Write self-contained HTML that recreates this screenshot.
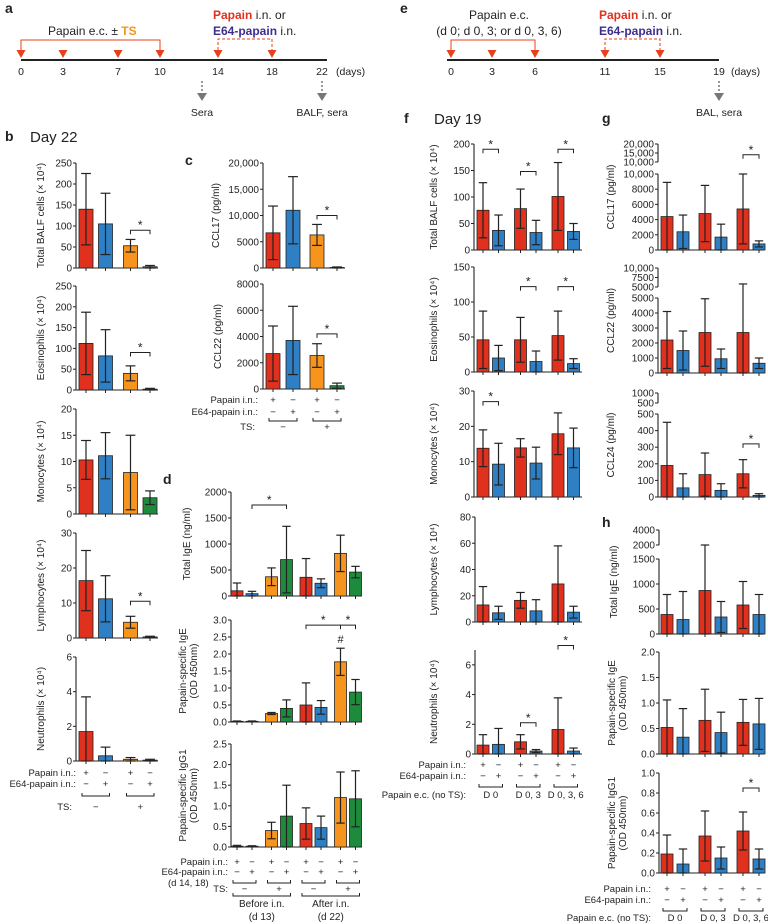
<!DOCTYPE html>
<html><head><meta charset="utf-8">
<style>
html,body{margin:0;padding:0;background:#fff;}
svg{display:block;font-family:"Liberation Sans",Arial,sans-serif;}
</style></head>
<body>
<svg id="fig" xmlns="http://www.w3.org/2000/svg" width="768" height="924" viewBox="0 0 768 924"></svg>
<script>
// ---------- data ----------
const bTotal=[140,105,53,3], bTotalErr=[225,178,68,6];
const bEos=[112,82,40,2], bEosErr=[187,145,58,4];
const bMono=[10.3,11.1,7.9,3.1], bMonoErr=[14,15.5,15,4.4];
const bLymph=[16.4,11.2,4.5,0.3], bLymphErr=[25,17.8,6.2,0.5];
const bNeut=[1.7,0.3,0.1,0.05], bNeutErr=[3.7,0.8,0.2,0.1];
const cCCL17=[6700,11000,6300,100], cCCL17Err=[11800,17400,8300,200];
const cCCL22=[2700,3700,2550,250], cCCL22Err=[4800,6300,3450,450];
const dIgE=[100,45,370,700,360,245,820,460], dIgEErr=[250,90,540,1340,720,330,1170,570];
const dPIgE=[0.02,0.02,0.25,0.4,0.5,0.43,1.77,0.88], dPIgEErr=[0.03,0.03,0.28,0.65,1.15,0.63,2.17,1.25];
const dIgG1=[0.02,0.02,0.4,0.75,0.57,0.47,1.2,1.17], dIgG1Err=[0.04,0.03,0.6,1.5,0.95,0.75,1.82,1.85];
const fTotal=[75,37,78,33,101,35], fTotalErr=[127,66,115,56,165,50];
const fEos=[46,20,46,15,52,12], fEosErr=[87,38,78,30,87,19];
const fMono=[13.8,9.3,13.9,9.6,17.9,13.9], fMonoErr=[19,15.2,16.5,14.1,23.8,19.5];
const fLymph=[13,7,16.5,8.5,29,7.5], fLymphErr=[27,12,22.5,17,58,12];
const fNeut=[0.6,0.65,0.82,0.2,1.65,0.2], fNeutErr=[1.3,1.72,1.3,0.3,3.78,0.4];
const gCCL17=[4400,2400,4800,1700,5400,800], gCCL17Err=[8900,4600,8500,3400,10000,1200];
const gCCL22=[2200,1500,2700,950,2700,650], gCCL22Err=[4100,2800,4950,1600,5800,1000];
const gCCL24=[190,55,135,40,140,10], gCCL24Err=[450,140,265,80,225,20];
const hIgE=[390,290,870,340,580,390], hIgEErr=[790,850,2000,650,1050,790];
const hPIgE=[0.52,0.33,0.66,0.42,0.62,0.59], hPIgEErr=[1.06,0.89,1.27,0.82,1.07,1.09];
const hIgG1=[0.19,0.09,0.37,0.15,0.42,0.14], hIgG1Err=[0.38,0.24,0.62,0.26,0.61,0.24];

const RED='#e0301e',BLUE='#2f7fc4',ORANGE='#f7941d',GREEN='#1e8a3c';
const colsTS=[RED,BLUE,ORANGE,GREEN];
const colsD=[RED,BLUE,ORANGE,GREEN,RED,BLUE,ORANGE,GREEN];
const colsF=[RED,BLUE,RED,BLUE,RED,BLUE];

// ---------- helpers ----------
const NS='http://www.w3.org/2000/svg';
const svg=document.getElementById('fig');
function mk(tag,attrs,parent){const e=document.createElementNS(NS,tag);for(const k in attrs)e.setAttribute(k,attrs[k]);(parent||svg).appendChild(e);return e;}
function txt(s,x,y,size,anchor,parent,extra){const t=mk('text',Object.assign({x:x,y:y,'font-size':size,'text-anchor':anchor||'start',fill:'#222'},extra||{}),parent);t.textContent=s;return t;}
function tsp(t,s,extra){const e=mk('tspan',extra||{},t);e.textContent=s;return e;}
function line(x1,y1,x2,y2,parent,w,col,dash){const a={x1:x1,y1:y1,x2:x2,y2:y2,stroke:col||'#222','stroke-width':w||1};if(dash)a['stroke-dasharray']=dash;return mk('line',a,parent);}

function xPos(x0,step,gap){return i=>x0+i*step+Math.floor(i/2)*gap;}

function panel(p,vals,errs,colors){
  const g=mk('g',{});
  
  
  const segs=p.segs;
  const y=v=>{for(let k=0;k<segs.length;k++){const s=segs[k];if(v<=s[1]||k===segs.length-1){const vv=Math.max(v,s[0]);return s[2]+(vv-s[0])/(s[1]-s[0])*(s[3]-s[2]);}}};
  const xc=p.xc;
  segs.forEach(s=>{const a=line(p.ax,s[2],p.ax,s[3],g,1.1);
    
    });
  const xa=line(p.ax,y(0),p.xEnd,y(0),g,1.1);
  
  
  p.ticks.forEach(t=>{const s=segs[t[2]||0];const ty=s[2]+(t[0]-s[0])/(s[1]-s[0])*(s[3]-s[2]);
    line(p.ax-3,ty,p.ax,ty,g,1);
    const tl=txt(t[1],p.ax-4,ty+3.5,10,'end',g);
    
    });
  const tc=(y(0)+segs[segs.length-1][3])/2;
  p.title.forEach((s,k)=>{const tt=txt(s,0,0,10,'middle',g,{transform:`translate(${p.tx+k*11},${tc}) rotate(-90)`});
    
    });
  vals.forEach((v,i)=>{
    const x=xc(i);
    line(x,y(0),x,y(0)+3,g,1);
    const r=mk('rect',{x:x-p.bw/2,y:y(v),width:p.bw,height:Math.max(0,y(0)-y(v)),fill:colors[i],stroke:'#222','stroke-width':0.8},g);
    
    
    const e=errs[i],lo=Math.max(0,2*v-e);
    const eb=line(x,y(lo),x,y(e),g,1.2);
    
    
    line(x-p.bw*0.35,y(e),x+p.bw*0.35,y(e),g,1.2);
    line(x-p.bw*0.35,y(lo),x+p.bw*0.35,y(lo),g,1.2);
  });
  (p.br||[]).forEach(b=>{const by=y(b[2]),x1=xc(b[0]),x2=xc(b[1]);
    const bl=mk('polyline',{points:`${x1},${by+4} ${x1},${by} ${x2},${by} ${x2},${by+4}`,fill:'none',stroke:'#222','stroke-width':1},g);
    
    
    txt('*',(x1+x2)/2,by-1,12,'middle',g);});
  (p.hash||[]).forEach(h=>{txt('#',xc(h[0]),y(h[1]),11,'middle',g);});
  return g;
}

function rows(xc,n,rowsY,labRight,labels){
  const g=mk('g',{});
  
  
  txt(labels[0],labRight,rowsY[0],9.5,'end',g);
  txt(labels[1],labRight,rowsY[1],9.5,'end',g);
  for(let i=0;i<n;i++){
    txt(i%2===0?'+':'−',xc(i),rowsY[0],9.5,'middle',g);
    txt(i%2===0?'−':'+',xc(i),rowsY[1],9.5,'middle',g);
  }
  return g;
}
function brk(x1,x2,y,g){mk('polyline',{points:`${x1},${y-3} ${x1},${y} ${x2},${y} ${x2},${y-3}`,fill:'none',stroke:'#222','stroke-width':1},g||svg);}

// ---------- panel a timeline ----------
(function(){
  const g=mk('g',{});
  
  
  txt('a',5,13,14,'start',g,{'font-weight':'bold'});
  line(21,60,327,60,g,2);
  const days=[0,3,7,10,14,18,22],dx=[21,63,118,160,218,272,322];
  days.forEach((d,i)=>txt(String(d),dx[i],75,10.5,'middle',g));
  txt('(days)',336,75,10.5,'start',g);
  [21,63,118,160,218,272].forEach(x=>mk('polygon',{points:`${x-4.5},50 ${x+4.5},50 ${x},58`,fill:'#e8401c'},g));
  mk('polyline',{points:'21,50 21,40 160,40 160,50',fill:'none',stroke:'#e8401c','stroke-width':1},g);
  mk('polyline',{points:'218,50 218,39 272,39 272,50',fill:'none',stroke:'#e8401c','stroke-width':1,'stroke-dasharray':'3,2'},g);
  const t1=txt('',48,35,12,'start',g);
  tsp(t1,'Papain e.c. ± ');tsp(t1,'TS',{fill:'#f7941d','font-weight':'bold'});
  const t2=txt('',213,19,12,'start',g);
  tsp(t2,'Papain',{fill:'#e0301e','font-weight':'bold'});tsp(t2,' i.n. or');
  const t3=txt('',213,35,12,'start',g);
  tsp(t3,'E64-papain',{fill:'#3b2e8f','font-weight':'bold'});tsp(t3,' i.n.');
  [202,322].forEach(x=>{line(x,81,x,93,g,1.5,'#777','2,2');mk('polygon',{points:`${x-5},93 ${x+5},93 ${x},101`,fill:'#777'},g);});
  txt('Sera',202,116,10.5,'middle',g);
  txt('BALF, sera',322,116,10.5,'middle',g);
})();
// ---------- panel e timeline ----------
(function(){
  const g=mk('g',{});
  
  
  txt('e',400,13,14,'start',g,{'font-weight':'bold'});
  line(447,60,719,60,g,2);
  const days=[0,3,6,11,15,19],dx=[451,492,535,605,660,719];
  days.forEach((d,i)=>txt(String(d),dx[i],75,10.5,'middle',g));
  txt('(days)',731,75,10.5,'start',g);
  [451,492,535,605,660].forEach(x=>mk('polygon',{points:`${x-4.5},50 ${x+4.5},50 ${x},58`,fill:'#e8401c'},g));
  mk('polyline',{points:'451,50 451,40 535,40 535,50',fill:'none',stroke:'#e8401c','stroke-width':1},g);
  mk('polyline',{points:'605,50 605,39 660,39 660,50',fill:'none',stroke:'#e8401c','stroke-width':1,'stroke-dasharray':'3,2'},g);
  txt('Papain e.c.',499,19,12,'middle',g);
  txt('(d 0; d 0, 3; or d 0, 3, 6)',499,35,12,'middle',g);
  const t2=txt('',599,19,12,'start',g);
  tsp(t2,'Papain',{fill:'#e0301e','font-weight':'bold'});tsp(t2,' i.n. or');
  const t3=txt('',599,35,12,'start',g);
  tsp(t3,'E64-papain',{fill:'#3b2e8f','font-weight':'bold'});tsp(t3,' i.n.');
  line(719,81,719,93,g,1.5,'#777','2,2');mk('polygon',{points:'714,93 724,93 719,101',fill:'#777'},g);
  txt('BAL, sera',719,116,10.5,'middle',g);
})();

// ---------- headings ----------
txt('b',5,141,14,'start',null,{'font-weight':'bold'});
txt('Day 22',30,142,15,'start');
txt('c',185,165,14,'start',null,{'font-weight':'bold'});
txt('d',163,484,14,'start',null,{'font-weight':'bold'});
txt('f',404,123,14,'start',null,{'font-weight':'bold'});
txt('Day 19',434,124,15,'start');
txt('g',602,123,14,'start',null,{'font-weight':'bold'});
txt('h',602,527,14,'start',null,{'font-weight':'bold'});

// ---------- panel b ----------
const xb=xPos(86,19.5,5.5);
panel({name:'b-total-balf',ax:76,xEnd:158,segs:[[0,250,268,163]],ticks:[[0,'0'],[50,'50'],[100,'100'],[150,'150'],[200,'200'],[250,'250']],xc:xb,bw:14,title:['Total BALF cells (× 10⁴)'],tx:44,br:[[2,3,90]]},bTotal,bTotalErr,colsTS);
panel({name:'b-eosinophils',ax:76,xEnd:158,segs:[[0,250,390,286]],ticks:[[0,'0'],[50,'50'],[100,'100'],[150,'150'],[200,'200'],[250,'250']],xc:xb,bw:14,title:['Eosinophils (× 10⁴)'],tx:44,br:[[2,3,90]]},bEos,bEosErr,colsTS);
panel({name:'b-monocytes',ax:76,xEnd:158,segs:[[0,20,514,409]],ticks:[[0,'0'],[5,'5'],[10,'10'],[15,'15'],[20,'20']],xc:xb,bw:14,title:['Monocytes (× 10⁴)'],tx:44},bMono,bMonoErr,colsTS);
panel({name:'b-lymphocytes',ax:76,xEnd:158,segs:[[0,30,638,533]],ticks:[[0,'0'],[10,'10'],[20,'20'],[30,'30']],xc:xb,bw:14,title:['Lymphocytes (× 10⁴)'],tx:44,br:[[2,3,10.5]]},bLymph,bLymphErr,colsTS);
panel({name:'b-neutrophils',ax:76,xEnd:158,segs:[[0,6,761,657]],ticks:[[0,'0'],[2,'2'],[4,'4'],[6,'6']],xc:xb,bw:14,title:['Neutrophils (× 10⁴)'],tx:44},bNeut,bNeutErr,colsTS);
(function(){const g=rows(xb,4,[776,787],76,['Papain i.n.:','E64-papain i.n.:']);
 brk(xb(0)-4,xb(1)+4,796,g);brk(xb(2)-4,xb(3)+4,796,g);
 txt('TS:',72,810,9.5,'end',g);txt('−',(xb(0)+xb(1))/2,810,9.5,'middle',g);txt('+',(xb(2)+xb(3))/2,810,9.5,'middle',g);})();

// ---------- panel c ----------
const xcc=xPos(273,20,4);
panel({name:'c-ccl17',ax:263,xEnd:345,segs:[[0,20000,268,163]],ticks:[[0,'0'],[5000,'5000'],[10000,'10,000'],[15000,'15,000'],[20000,'20,000']],xc:xcc,bw:14,title:['CCL17 (pg/ml)'],tx:219,br:[[2,3,10000]]},cCCL17,cCCL17Err,colsTS);
panel({name:'c-ccl22',ax:263,xEnd:345,segs:[[0,8000,389,284]],ticks:[[0,'0'],[2000,'2000'],[4000,'4000'],[6000,'6000'],[8000,'8000']],xc:xcc,bw:14,title:['CCL22 (pg/ml)'],tx:221,br:[[2,3,4200]]},cCCL22,cCCL22Err,colsTS);
(function(){const g=rows(xcc,4,[403,415],258,['Papain i.n.:','E64-papain i.n.:']);
 brk(xcc(0)-4,xcc(1)+4,421,g);brk(xcc(2)-4,xcc(3)+4,421,g);
 txt('TS:',255,430,9.5,'end',g);txt('−',(xcc(0)+xcc(1))/2,430,9.5,'middle',g);txt('+',(xcc(2)+xcc(3))/2,430,9.5,'middle',g);})();

// ---------- panel d ----------
const xd=xPos(237,15,4.5);
panel({name:'d-total-ige',ax:231,xEnd:362,segs:[[0,2000,596,492]],ticks:[[0,'0'],[500,'500'],[1000,'1000'],[1500,'1500'],[2000,'2000']],xc:xd,bw:12,title:['Total IgE (ng/ml)'],tx:190,br:[[1,3,1750]]},dIgE,dIgEErr,colsD);
panel({name:'d-papain-ige',ax:231,xEnd:362,segs:[[0,3,722,620]],ticks:[[0,'0.0'],[0.5,'0.5'],[1,'1.0'],[1.5,'1.5'],[2,'2.0'],[2.5,'2.5'],[3,'3.0']],xc:xd,bw:12,title:['Papain-specific IgE','(OD 450nm)'],tx:186,br:[[4,6,2.85],[6,7,2.85]],hash:[[6,2.33]]},dPIgE,dPIgEErr,colsD);
panel({name:'d-papain-igg1',ax:231,xEnd:362,segs:[[0,2.5,847,744]],ticks:[[0,'0.0'],[0.5,'0.5'],[1,'1.0'],[1.5,'1.5'],[2,'2.0'],[2.5,'2.5']],xc:xd,bw:12,title:['Papain-specific IgG1','(OD 450nm)'],tx:186},dIgG1,dIgG1Err,colsD);
(function(){const g=rows(xd,8,[865,875],228,['Papain i.n.:','E64-papain i.n.:']);
 for(let k=0;k<4;k++)brk(xd(2*k)-4,xd(2*k+1)+4,883,g);
 txt('(d 14, 18)',168,886,9.5,'start',g);txt('TS:',228,892,9.5,'end',g);
 [0,1].forEach(h=>{txt('−',(xd(4*h)+xd(4*h+1))/2,892,9.5,'middle',g);txt('+',(xd(4*h+2)+xd(4*h+3))/2,892,9.5,'middle',g);
   brk(xd(4*h)-4,xd(4*h+3)+4,896,g);});
 txt('Before i.n.',(xd(0)+xd(3))/2,907,10,'middle',g);txt('(d 13)',(xd(0)+xd(3))/2,920,10,'middle',g);
 txt('After i.n.',(xd(4)+xd(7))/2,907,10,'middle',g);txt('(d 22)',(xd(4)+xd(7))/2,920,10,'middle',g);})();

// ---------- panel f ----------
const xf=xPos(483,15.5,6.5);
panel({name:'f-total-balf',ax:474,xEnd:582,segs:[[0,200,250,144]],ticks:[[0,'0'],[50,'50'],[100,'100'],[150,'150'],[200,'200']],xc:xf,bw:12,title:['Total BALF cells (× 10⁴)'],tx:437,br:[[0,1,190],[2,3,148],[4,5,190]]},fTotal,fTotalErr,colsF);
panel({name:'f-eosinophils',ax:474,xEnd:582,segs:[[0,150,372,267]],ticks:[[0,'0'],[50,'50'],[100,'100'],[150,'150']],xc:xf,bw:12,title:['Eosinophils (× 10⁴)'],tx:437,br:[[2,3,122],[4,5,122]]},fEos,fEosErr,colsF);
panel({name:'f-monocytes',ax:474,xEnd:582,segs:[[0,30,497,391]],ticks:[[0,'0'],[10,'10'],[20,'20'],[30,'30']],xc:xf,bw:12,title:['Monocytes (× 10⁴)'],tx:437,br:[[0,1,27]]},fMono,fMonoErr,colsF);
panel({name:'f-lymphocytes',ax:475,xEnd:582,segs:[[0,80,622,517]],ticks:[[0,'0'],[20,'20'],[40,'40'],[60,'60'],[80,'80']],xc:xf,bw:12,title:['Lymphocytes (× 10⁴)'],tx:437},fLymph,fLymphErr,colsF);
panel({name:'f-neutrophils',ax:475,xEnd:582,segs:[[0,7,754,650]],ticks:[[0,'0'],[2,'2'],[4,'4'],[6,'6']],xc:xf,bw:12,title:['Neutrophils (× 10⁴)'],tx:437,br:[[2,3,2.1],[4,5,7.3]]},fNeut,fNeutErr,colsF);
(function(){const g=rows(xf,6,[768,779],466,['Papain i.n.:','E64-papain i.n.:']);
 for(let k=0;k<3;k++)brk(xf(2*k)-4,xf(2*k+1)+4,787,g);
 txt('Papain e.c. (no TS):',466,798,9.5,'end',g);
 ['D 0','D 0, 3','D 0, 3, 6'].forEach((s,k)=>txt(s,(xf(2*k)+xf(2*k+1))/2,798,9.5,'middle',g));})();

// ---------- panel g ----------
const xg=xPos(667,16,6);
panel({name:'g-ccl17',ax:658,xEnd:764,segs:[[0,10000,250,174],[10000,20000,162,144]],ticks:[[0,'0',0],[2000,'2000',0],[4000,'4000',0],[6000,'6000',0],[8000,'8000',0],[10000,'10,000',0],[10000,'10,000',1],[15000,'15,000',1],[20000,'20,000',1]],xc:xg,bw:12,title:['CCL17 (pg/ml)'],tx:614,br:[[4,5,14000]]},gCCL17,gCCL17Err,colsF);
panel({name:'g-ccl22',ax:658,xEnd:764,segs:[[0,5000,373,298],[5000,10000,287,268]],ticks:[[0,'0',0],[1000,'1000',0],[2000,'2000',0],[3000,'3000',0],[4000,'4000',0],[5000,'5000',0],[5000,'5000',1],[7500,'7500',1],[10000,'10,000',1]],xc:xg,bw:12,title:['CCL22 (pg/ml)'],tx:614},gCCL22,gCCL22Err,colsF);
panel({name:'g-ccl24',ax:658,xEnd:764,segs:[[0,500,497,414],[500,1000,403,393]],ticks:[[0,'0',0],[100,'100',0],[200,'200',0],[300,'300',0],[400,'400',0],[500,'500',0],[500,'500',1],[1000,'1000',1]],xc:xg,bw:12,title:['CCL24 (pg/ml)'],tx:614,br:[[4,5,320]]},gCCL24,gCCL24Err,colsF);

// ---------- panel h ----------
panel({name:'h-total-ige',ax:659,xEnd:764,segs:[[0,1500,634,559],[2000,4000,545,530]],ticks:[[0,'0',0],[500,'500',0],[1000,'1000',0],[1500,'1500',0],[2000,'2000',1],[4000,'4000',1]],xc:xg,bw:12,title:['Total IgE (ng/ml)'],tx:617},hIgE,hIgEErr,colsF);
panel({name:'h-papain-ige',ax:659,xEnd:764,segs:[[0,2,754,652]],ticks:[[0,'0.0'],[0.5,'0.5'],[1,'1.0'],[1.5,'1.5'],[2,'2.0']],xc:xg,bw:12,title:['Papain-specific IgE','(OD 450nm)'],tx:615},hPIgE,hPIgEErr,colsF);
panel({name:'h-papain-igg1',ax:659,xEnd:764,segs:[[0,1,873,773]],ticks:[[0,'0.0'],[0.2,'0.2'],[0.4,'0.4'],[0.6,'0.6'],[0.8,'0.8'],[1,'1.0']],xc:xg,bw:12,title:['Papain-specific IgG1','(OD 450nm)'],tx:615,br:[[4,5,0.85]]},hIgG1,hIgG1Err,colsF);
(function(){const g=rows(xg,6,[892,903],651,['Papain i.n.:','E64-papain i.n.:']);
 for(let k=0;k<3;k++)brk(xg(2*k)-4,xg(2*k+1)+4,911,g);
 txt('Papain e.c. (no TS):',651,921,9.5,'end',g);
 ['D 0','D 0, 3','D 0, 3, 6'].forEach((s,k)=>txt(s,(xg(2*k)+xg(2*k+1))/2,921,9.5,'middle',g));})();
</script>
</body></html>
